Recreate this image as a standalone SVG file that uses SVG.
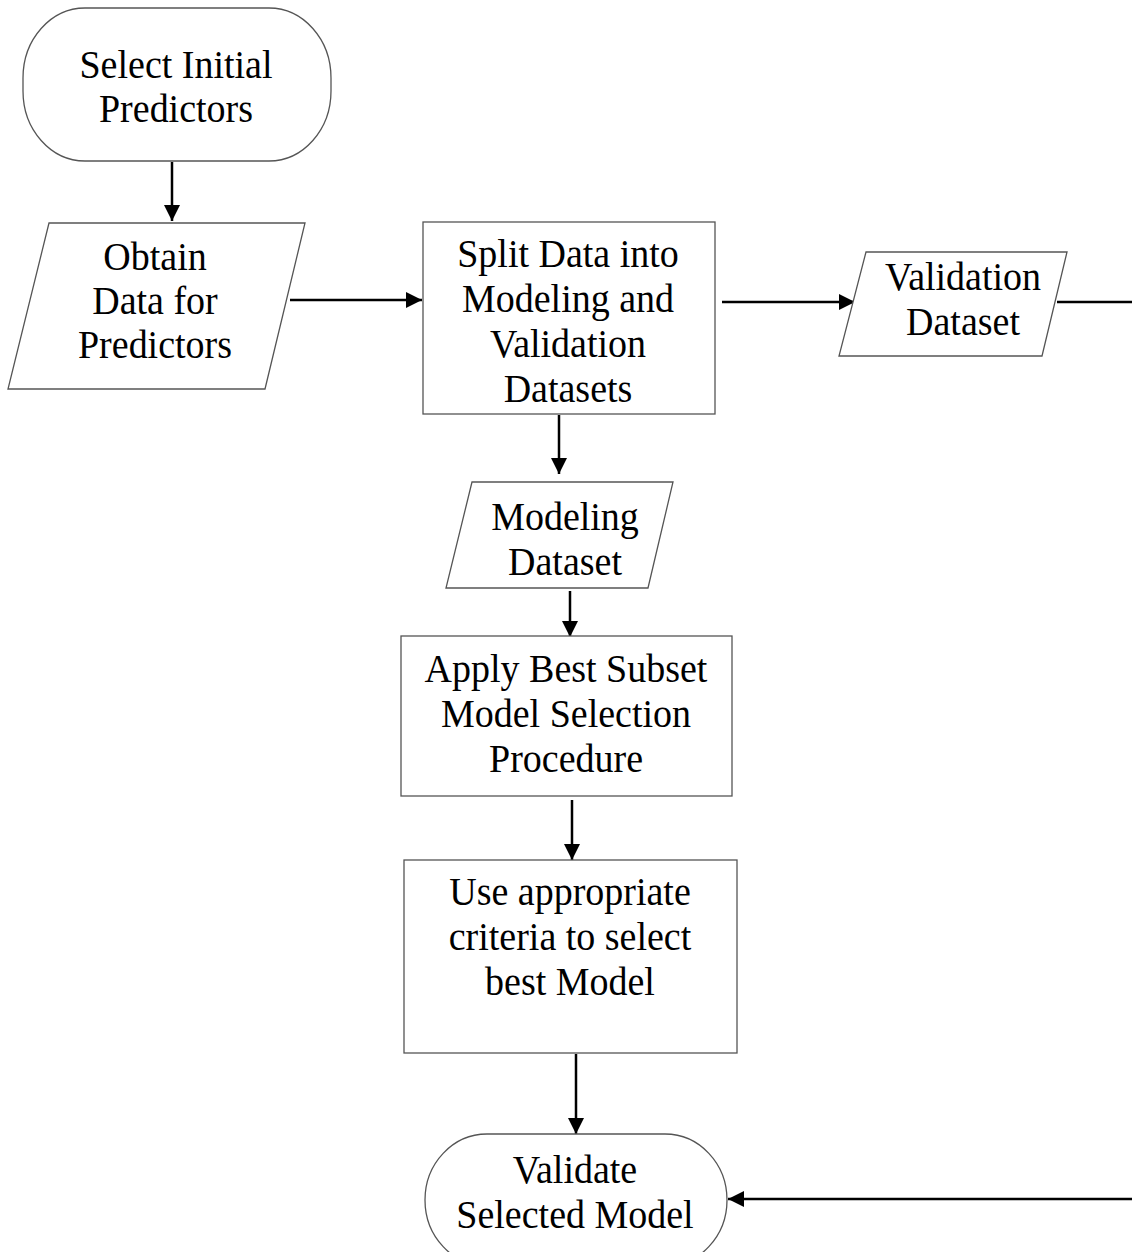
<svg xmlns="http://www.w3.org/2000/svg" width="1132" height="1252" viewBox="0 0 1132 1252">
<style>
.shape{fill:#ffffff;stroke:#555555;stroke-width:1.3}
.lbl{font-family:"Liberation Serif","Times New Roman",serif;font-size:38px;fill:#000000;text-anchor:middle}
.conn{fill:none;stroke:#000000;stroke-width:2.5}
</style>
<defs>
<marker id="arr" markerUnits="userSpaceOnUse" markerWidth="18" markerHeight="16" refX="16" refY="8" orient="auto">
<path d="M0,0 L16,8 L0,16 Z" fill="#000000"/>
</marker>
</defs>
<rect width="1132" height="1252" fill="#ffffff"/>
<g id="connectors">
<line class="conn" x1="172" y1="162" x2="172" y2="221" marker-end="url(#arr)"/>
<line class="conn" x1="290" y1="300" x2="422" y2="300" marker-end="url(#arr)"/>
<line class="conn" x1="722" y1="302" x2="855" y2="302" marker-end="url(#arr)"/>
<line class="conn" x1="1057" y1="302" x2="1132" y2="302"/>
<line class="conn" x1="559" y1="415" x2="559" y2="474" marker-end="url(#arr)"/>
<line class="conn" x1="570" y1="591" x2="570" y2="637" marker-end="url(#arr)"/>
<line class="conn" x1="572" y1="800" x2="572" y2="860" marker-end="url(#arr)"/>
<line class="conn" x1="576" y1="1054" x2="576" y2="1134" marker-end="url(#arr)"/>
<line class="conn" x1="1132" y1="1199" x2="728" y2="1199" marker-end="url(#arr)"/>
</g>
<g id="select-initial">
<rect class="shape" x="23" y="8" width="308" height="153" rx="62" ry="70"/>
<text class="lbl" transform="translate(176,78) scale(1,1.08)">Select Initial</text>
<text class="lbl" transform="translate(176,122) scale(1,1.08)">Predictors</text>
</g>
<g id="obtain-data">
<polygon class="shape" points="49,223 305,223 265,389 8,389"/>
<text class="lbl" transform="translate(155,270) scale(1,1.08)">Obtain</text>
<text class="lbl" transform="translate(155,314) scale(1,1.08)">Data for</text>
<text class="lbl" transform="translate(155,358) scale(1,1.08)">Predictors</text>
</g>
<g id="split-data">
<rect class="shape" x="423" y="222" width="292" height="192"/>
<text class="lbl" transform="translate(568,267) scale(1,1.08)">Split Data into</text>
<text class="lbl" transform="translate(568,312) scale(1,1.08)">Modeling and</text>
<text class="lbl" transform="translate(568,357) scale(1,1.08)">Validation</text>
<text class="lbl" transform="translate(568,402) scale(1,1.08)">Datasets</text>
</g>
<g id="validation-dataset">
<polygon class="shape" points="866,252 1067,252 1042,356 839,356"/>
<text class="lbl" transform="translate(963,290) scale(1,1.08)">Validation</text>
<text class="lbl" transform="translate(963,335) scale(1,1.08)">Dataset</text>
</g>
<g id="modeling-dataset">
<polygon class="shape" points="472,482 673,482 648,588 446,588"/>
<text class="lbl" transform="translate(565,530) scale(1,1.08)">Modeling</text>
<text class="lbl" transform="translate(565,575) scale(1,1.08)">Dataset</text>
</g>
<g id="apply-best-subset">
<rect class="shape" x="401" y="636" width="331" height="160"/>
<text class="lbl" transform="translate(566,682) scale(1,1.08)">Apply Best Subset</text>
<text class="lbl" transform="translate(566,727) scale(1,1.08)">Model Selection</text>
<text class="lbl" transform="translate(566,772) scale(1,1.08)">Procedure</text>
</g>
<g id="use-criteria">
<rect class="shape" x="404" y="860" width="333" height="193"/>
<text class="lbl" transform="translate(570,905) scale(1,1.08)">Use appropriate</text>
<text class="lbl" transform="translate(570,950) scale(1,1.08)">criteria to select</text>
<text class="lbl" transform="translate(570,995) scale(1,1.08)">best Model</text>
</g>
<g id="validate-model">
<rect class="shape" x="425" y="1134" width="302" height="132" rx="62" ry="70"/>
<text class="lbl" transform="translate(575,1183) scale(1,1.08)">Validate</text>
<text class="lbl" transform="translate(575,1228) scale(1,1.08)">Selected Model</text>
</g>
</svg>
